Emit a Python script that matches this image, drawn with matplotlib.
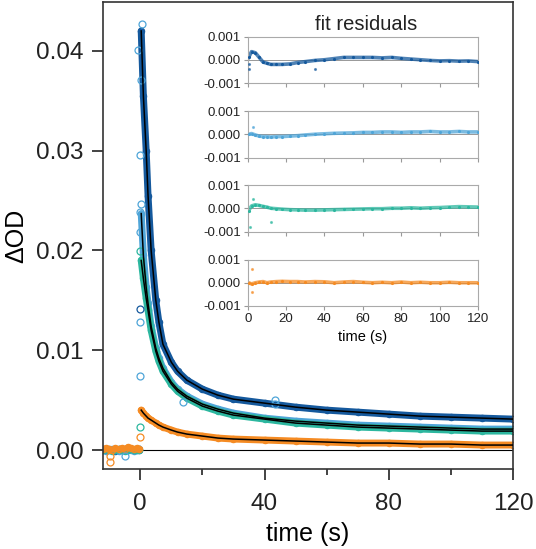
import matplotlib
matplotlib.use("Agg")
import matplotlib.pyplot as plt

plt.rcParams["font.family"] = ["Liberation Sans", "DejaVu Sans"]
plt.rcParams["axes.unicode_minus"] = False

# colours of the four traces
c_dark = "#15599d"
c_light = "#4fa5d8"
c_teal = "#2cb79f"
c_orange = "#f58b23"

# decay traces (band centre)
t_decay = [0.3, 1, 1.9, 2.5, 3.5, 5, 6, 7.3, 10, 12, 15, 20, 25, 30, 40, 50, 60, 70, 80, 90, 100, 110, 120]
od_dark = [0.0420, 0.0355, 0.0300, 0.0255, 0.0200, 0.0150, 0.0128, 0.0106, 0.0088, 0.0079, 0.0070, 0.0061,
           0.0055, 0.0051, 0.0047, 0.0043, 0.0040, 0.0038, 0.0036, 0.0034, 0.0033, 0.0032, 0.0031]
od_light = [0.0237, 0.0195, 0.0163, 0.0147, 0.0124, 0.0102, 0.0092, 0.0082, 0.0068, 0.0061, 0.0054, 0.0046,
            0.0041, 0.0037, 0.0032, 0.0029, 0.0027, 0.0025, 0.0024, 0.0023, 0.0022, 0.0021, 0.0021]
od_teal = [0.0190, 0.0172, 0.0152, 0.0140, 0.0120, 0.0099, 0.0089, 0.0079, 0.0066, 0.0059, 0.0052, 0.0044,
           0.0039, 0.0035, 0.0031, 0.0027, 0.0025, 0.0023, 0.0022, 0.0021, 0.0020, 0.0019, 0.0019]
od_orange = [0.0040, 0.0037, 0.0034, 0.0032, 0.0030, 0.0027, 0.0025, 0.0023, 0.0020, 0.0018, 0.0016, 0.0014,
             0.0012, 0.0011, 0.0010, 0.0009, 0.0008, 0.0007, 0.0007, 0.0006, 0.0006, 0.0005, 0.0005]

# pre-trigger baseline
t_base = [-12, -11, -10, -9, -8, -7, -6, -5, -4, -3, -2, -1, -0.3]
base_dark = [0.0001, 0.0000, 0.0001, 0.0000, -0.0001, 0.0001, 0.0000, 0.0001, 0.0000, 0.0001, 0.0000, 0.0001, 0.0000]
base_light = [0.0000, -0.0001, 0.0000, 0.0001, 0.0000, -0.0001, 0.0000, 0.0000, 0.0001, 0.0000, -0.0001, 0.0000, 0.0001]
base_teal = [0.0000, 0.0001, 0.0000, -0.0001, 0.0000, 0.0001, 0.0000, -0.0001, 0.0000, 0.0001, 0.0000, 0.0000, 0.0000]
base_orange = [0.0001, 0.0002, 0.0001, 0.0000, 0.0002, 0.0001, 0.0002, 0.0001, 0.0003, 0.0002, 0.0001, 0.0002, 0.0001]

# single points on the rising edge and a few outliers
edge_t = [0.4, -0.8, 0.3, 0.0, 0.3, -0.2, -0.2, 0.0, 0.0, 0.0, 0.0, 0.0, 0.0, -5.0, -9.9, -9.9, 13.7, 43.5, 43.5]
edge_od = [0.0427, 0.0401, 0.0371, 0.0296, 0.0247, 0.0239, 0.0219, 0.0141, 0.0128, 0.0074, 0.0023, 0.0013, 0.0199,
           -0.0006, -0.0006, -0.0012, 0.0048, 0.0050, 0.0046]
edge_c = [c_light, c_light, c_light, c_light, c_light, c_light, c_light, c_dark, c_light, c_light, c_teal, c_orange,
          c_teal, c_light, c_orange, c_orange, c_light, c_light, c_light]

# fit residuals
t_res = [0.5, 2, 4, 6, 8, 10, 12, 15, 18, 22, 26, 30, 35, 40, 45, 50, 55, 60, 65, 70, 75, 80, 85, 90, 95, 100,
         105, 110, 115, 120]
res_dark = [0.0001, 0.00035, 0.0003, 0.0001, -0.0001, -0.00015, -0.0002, -0.0002, -0.0002, -0.00018, -0.00012,
            -0.00008, -0.00003, 0.0, 0.00005, 0.0001, 0.0001, 0.0001, 0.0001, 0.00008, 0.0001, 0.00006, 0.00003,
            0.0, -0.00003, -0.00005, -0.00004, -0.00006, -0.00005, -0.00008]
res_light = [0.0, 0.00003, -0.00003, -0.00008, -0.0001, -0.0001, -0.00012, -0.0001, -0.0001, -0.00008, -0.00006,
             -0.00003, 0.0, 0.00002, 0.00004, 0.00005, 0.00006, 0.00008, 0.00008, 0.0001, 0.0001, 0.00008, 0.0001,
             0.0001, 0.00012, 0.0001, 0.0001, 0.00012, 0.0001, 0.0001]
res_teal = [-0.0001, 0.0001, 0.00015, 0.00012, 0.00008, 0.00005, 0.0, -0.00002, -0.00004, -0.00006, -0.00007,
            -0.00008, -0.00008, -0.00007, -0.00006, -0.00005, -0.00004, -0.00003, -0.00002, -0.00002, 0.0, 0.0,
            0.00002, 0.0, 0.00002, 0.00003, 0.00005, 0.00007, 0.00006, 0.00005]
res_orange = [0.0, -0.00005, 0.0, 0.00003, 0.00005, 0.0, 0.00003, 0.00005, 0.00006, 0.00005, 0.00005, 0.00003,
              0.00005, 0.00004, 0.0, 0.00003, 0.00005, 0.00002, 0.0, 0.00002, 0.0, 0.00003, 0.0, 0.00002, 0.0,
              0.0, 0.00002, 0.0, 0.0, 0.0]
res_out_t = [[0.5, 0.5, 35], [3], [1, 3, 12], [2, 2.5]]
res_out_v = [[-0.0002, -0.0004, -0.0004], [0.0003], [-0.0008, 0.0004, -0.0006], [0.0006, -0.0004]]

fig = plt.figure(figsize=(5.36, 5.49), dpi=100)
W, H = 536.0, 549.0
ax = fig.add_axes([103 / W, 1 - 469 / H, 410 / W, 467 / H])

ax.axhline(0, color="black", lw=0.8, zorder=1)

series = [(od_dark, base_dark, c_dark), (od_light, base_light, c_light),
          (od_teal, base_teal, c_teal), (od_orange, base_orange, c_orange)]
for od, base, c in series:
    ax.plot(t_decay, od, color=c, lw=5, solid_capstyle="round", zorder=2)
    ax.plot(t_decay, od, "o", ms=4.5, mfc="none", mec=c, mew=0.9, zorder=2)
    ax.plot(t_base, base, color=c, lw=4, zorder=2)
    ax.plot(t_base, base, "o", ms=4.5, mfc="none", mec=c, mew=0.9, zorder=2)
    ax.plot(t_decay, od, color="black", lw=1.1, zorder=4)
for tt, vv, cc in zip(edge_t, edge_od, edge_c):
    ax.plot(tt, vv, "o", ms=5, mfc="none", mec=cc, mew=0.9, zorder=3)

ax.set_xlim(-12, 120)
ax.set_ylim(-0.0019, 0.0449)
ax.set_xticks([0, 40, 80, 120])
ax.set_xticks([20, 60, 100], minor=True)
ax.set_yticks([0, 0.01, 0.02, 0.03, 0.04])
ax.set_yticklabels(["0.00", "0.01", "0.02", "0.03", "0.04"])
ax.tick_params(axis="x", which="major", direction="out", length=8, width=1.2, color="#222222",
               labelsize=17.5, labelcolor="#222222", pad=9)
ax.tick_params(axis="y", which="major", direction="out", length=8, width=1.2, color="#222222",
               labelsize=17.5, labelcolor="#222222", pad=6)
ax.tick_params(axis="x", which="minor", direction="out", length=4, width=1.2, color="#222222")
for s in ax.spines.values():
    s.set_linewidth(1.2)
    s.set_color("#333333")
ax.set_xlabel("time (s)", fontsize=18)
ax.set_ylabel("ΔOD", fontsize=18)
ax.xaxis.set_label_coords(0.5, -0.113)
ax.yaxis.set_label_coords(-0.183, 0.5)

# inset residual panels
res_list = [res_dark, res_light, res_teal, res_orange]
res_cols = [c_dark, c_light, c_teal, c_orange]
tops = [36.5, 111, 185, 259.5]
ph = 46.5
for i in range(4):
    r = fig.add_axes([247.7 / W, 1 - (tops[i] + ph) / H, 230.3 / W, ph / H])
    r.axhline(0, color="#888888", lw=0.6, zorder=1)
    r.plot(t_res, res_list[i], color=res_cols[i], lw=2.6, alpha=0.75, zorder=2)
    r.plot(t_res, res_list[i], ".", ms=2.5, color=res_cols[i], zorder=3)
    r.plot(res_out_t[i], res_out_v[i], ".", ms=2.5, color=res_cols[i], alpha=0.6, zorder=3)
    r.set_xlim(0, 120)
    r.set_ylim(-0.001, 0.001)
    r.set_yticks([-0.001, 0, 0.001])
    r.set_yticklabels(["-0.001", "0.000", "0.001"])
    r.set_xticks([0, 20, 40, 60, 80, 100, 120])
    r.tick_params(axis="both", which="major", direction="out", length=3, width=0.8, color="#999999",
                  labelsize=9.5, labelcolor="#222222", pad=2)
    for s in r.spines.values():
        s.set_linewidth(0.8)
        s.set_color("#aaaaaa")
    if i < 3:
        r.set_xticklabels([])
    else:
        r.set_xlabel("time (s)", fontsize=10.5, labelpad=4)

fig.text(366 / W, 1 - 24 / H, "fit residuals", fontsize=14.5, ha="center", va="center", color="#222222")

fig.savefig("out.png", dpi=100)
